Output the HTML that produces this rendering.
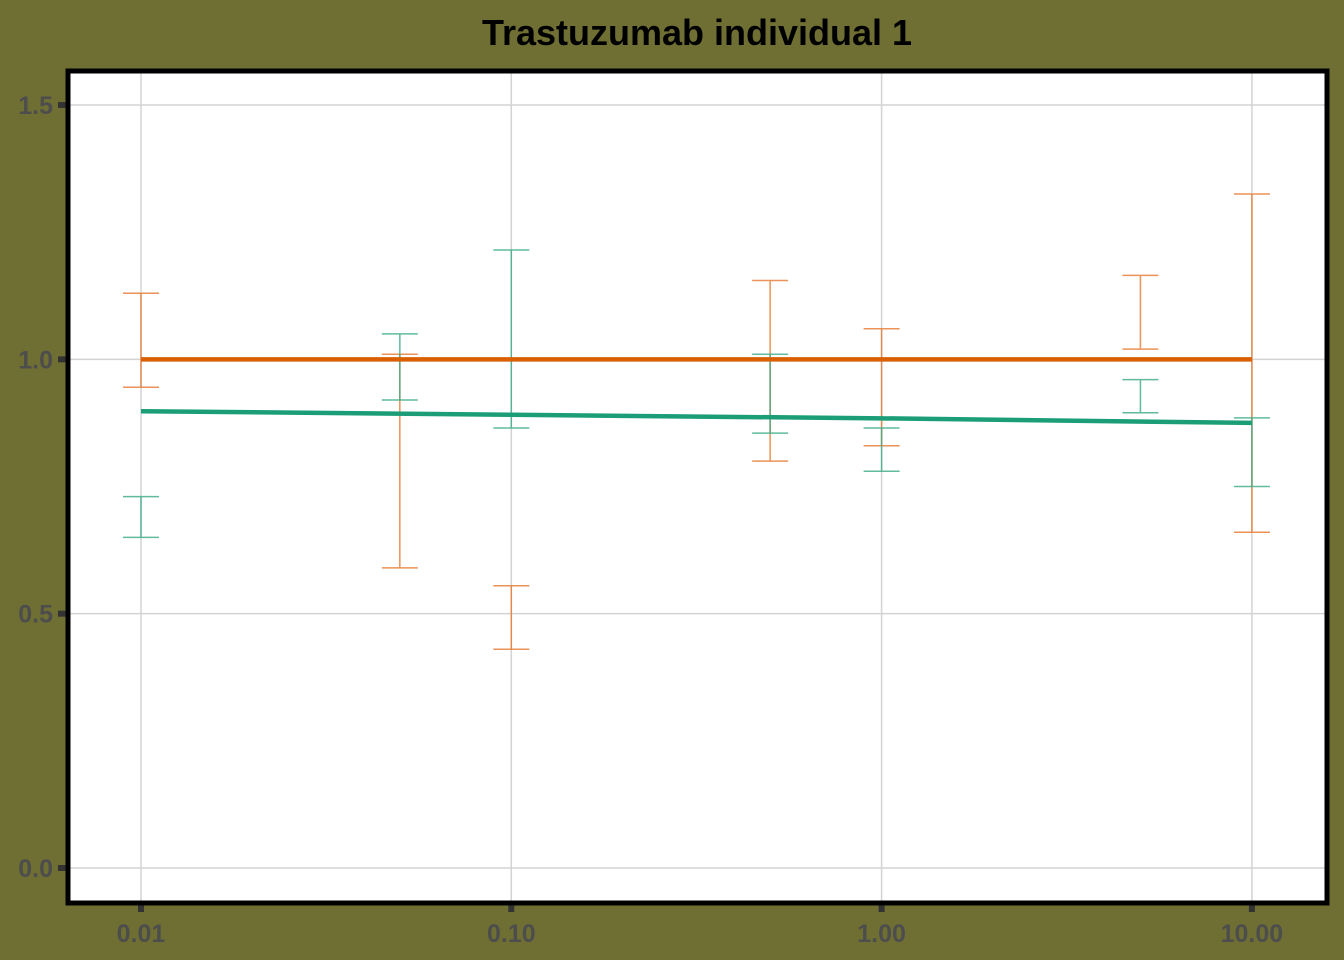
<!DOCTYPE html>
<html><head><meta charset="utf-8"><style>
body{margin:0;background:#6f6f33;}
svg{display:block;font-family:"Liberation Sans",sans-serif;}
</style></head><body>
<svg id="chart" width="1344" height="960">
<rect x="0" y="0" width="1344" height="960" fill="#6f6f33"/>
<text x="697" y="45" text-anchor="middle" font-size="36" font-weight="bold" fill="#000">Trastuzumab individual 1</text>
<rect x="68" y="71" width="1259" height="832" fill="#fff"/>
<g id="grid"></g><g id="marks"></g><g id="axes"></g>
<rect x="68" y="71" width="1259" height="832" fill="none" stroke="#000" stroke-width="5"/>
</svg>
<script>
const xTicks=[0.01,0.1,1,10];
const xTickLabels=["0.01","0.10","1.00","10.00"];
const yTicks=[0,0.5,1,1.5];
const yTickLabels=["0.0","0.5","1.0","1.5"];
const doses=[0.01,0.05,0.1,0.5,1,5,10];
const orangeLow=[0.945,0.59,0.43,0.8,0.83,1.02,0.66];
const orangeHigh=[1.13,1.01,0.555,1.155,1.06,1.165,1.325];
const greenLow=[0.65,0.92,0.865,0.855,0.78,0.895,0.75];
const greenHigh=[0.73,1.05,1.215,1.01,0.865,0.96,0.885];
const orangeFitX=[0.01,10];
const orangeFitY=[1,1];
const greenFitX=[0.01,0.1,1,10];
const greenFitY=[0.898,0.891,0.884,0.875];
const X=v=>141+370.3*Math.log10(v/0.01);
const Y=v=>868-508.67*v;
const NS="http://www.w3.org/2000/svg";
function mk(p,t,a){const e=document.createElementNS(NS,t);for(const k in a)e.setAttribute(k,a[k]);p.appendChild(e);return e;}
const grid=document.getElementById('grid'),marks=document.getElementById('marks'),axes=document.getElementById('axes');
xTicks.forEach((t,i)=>{
 let l=mk(grid,'line',{x1:X(t),x2:X(t),y1:71,y2:903,stroke:'#d3d3d3','stroke-width':1.5});
 
 let k=mk(axes,'line',{x1:X(t),x2:X(t),y1:905,y2:912,stroke:'#333','stroke-width':6});
 
 let tx=mk(axes,'text',{x:X(t),y:942,'text-anchor':'middle','font-size':25,'font-weight':'bold',fill:'#4d4d4d'});
 tx.textContent=xTickLabels[i];
});
yTicks.forEach((t,i)=>{
 let l=mk(grid,'line',{x1:68,x2:1327,y1:Y(t),y2:Y(t),stroke:'#d3d3d3','stroke-width':1.5});
 
 let k=mk(axes,'line',{x1:58,x2:66,y1:Y(t),y2:Y(t),stroke:'#333','stroke-width':6});
 
 let tx=mk(axes,'text',{x:53,y:Y(t)+9,'text-anchor':'end','font-size':25,'font-weight':'bold',fill:'#4d4d4d'});
 tx.textContent=yTickLabels[i];
});
function bars(lo,hi,col,name){
 doses.forEach((d,i)=>{
  const g=mk(marks,'g',{stroke:col,'stroke-width':1.5,opacity:0.8});
  
  mk(g,'line',{x1:X(d),x2:X(d),y1:Y(lo[i]),y2:Y(hi[i])});
  mk(g,'line',{x1:X(d)-18,x2:X(d)+18,y1:Y(lo[i]),y2:Y(lo[i])});
  mk(g,'line',{x1:X(d)-18,x2:X(d)+18,y1:Y(hi[i]),y2:Y(hi[i])});
 });
}
bars(orangeLow,orangeHigh,'#e6772e','orange-error-bar');
bars(greenLow,greenHigh,'#3aaa85','green-error-bar');
let p1=mk(marks,'polyline',{points:orangeFitX.map((x,i)=>X(x)+','+Y(orangeFitY[i])).join(' '),fill:'none',stroke:'#d95f02','stroke-width':4.5});

let p2=mk(marks,'polyline',{points:greenFitX.map((x,i)=>X(x)+','+Y(greenFitY[i])).join(' '),fill:'none',stroke:'#1b9e77','stroke-width':4.5});

</script>
</body></html>
